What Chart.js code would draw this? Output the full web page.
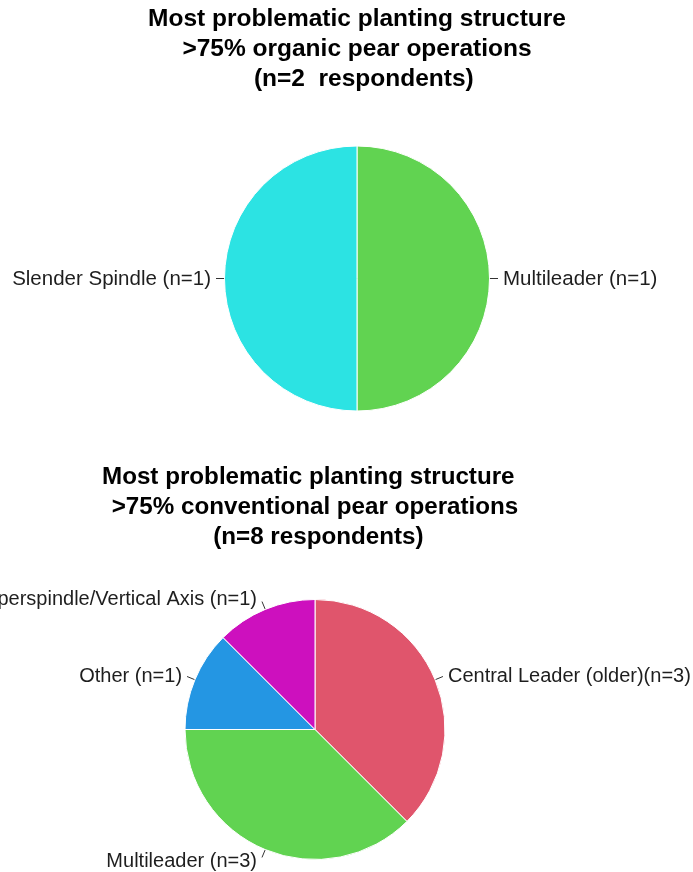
<!DOCTYPE html>
<html>
<head>
<meta charset="utf-8">
<script src="https://cdn.jsdelivr.net/npm/chart.js@4.4.1/dist/chart.umd.min.js"></script>
<style>
  html, body { margin: 0; padding: 0; background: #ffffff; }
  #wrap { position: relative; width: 693px; height: 872px; overflow: hidden; }
  .panel { position: absolute; left: 0; }
</style>
</head>
<body>
<div id="wrap">
  <canvas id="organic" class="panel" style="top:0px" width="693" height="440"></canvas>
  <canvas id="conventional" class="panel" style="top:458px" width="693" height="414"></canvas>
</div>
<script>
// Organic operations (n=2)
const organicTitle = ['Most problematic planting structure', '>75% organic pear operations', '  (n=2  respondents)'];
const organicLabels = ['Multileader (n=1)', 'Slender Spindle (n=1)'];
const organicCounts = [1, 1];
const organicColors = ['#61d351', '#2ce3e3'];

// Conventional operations (n=8)
const conventionalTitle = ['Most problematic planting structure  ', '>75% conventional pear operations', ' (n=8 respondents)'];
const conventionalLabels = ['Central Leader (older)(n=3)', 'Multileader (n=3)', 'Other (n=1)', 'Superspindle/Vertical Axis (n=1)'];
const conventionalCounts = [3, 3, 1, 1];
const conventionalColors = ['#e0556c', '#61d351', '#2496e3', '#cd10be'];

const FONT = '"Liberation Sans", Arial, Helvetica, sans-serif';

// Outside slice labels joined to the rim by a short leader line
const outsideLabels = {
  id: 'outsideLabels',
  afterDatasetsDraw(chart, args, opts) {
    const ctx = chart.ctx;
    const meta = chart.getDatasetMeta(0);
    const labels = chart.data.labels;
    ctx.save();
    ctx.font = opts.size + 'px ' + FONT;
    ctx.fillStyle = '#1e1e1e';
    ctx.strokeStyle = '#333333';
    ctx.lineWidth = 1;
    ctx.textBaseline = 'middle';
    meta.data.forEach((arc, i) => {
      const p = arc.getProps(['x', 'y', 'startAngle', 'endAngle', 'outerRadius'], true);
      const mid = (p.startAngle + p.endAngle) / 2;
      const dx = Math.cos(mid), dy = Math.sin(mid);
      const r0 = p.outerRadius + 0.5, r1 = p.outerRadius + 8.5;
      const x0 = p.x + dx * r0, y0 = p.y + dy * r0;
      const x1 = p.x + dx * r1, y1 = p.y + dy * r1;
      ctx.beginPath();
      ctx.moveTo(x0, y0);
      ctx.lineTo(x1, y1);
      ctx.stroke();
      const right = dx >= -1e-6;
      ctx.textAlign = right ? 'left' : 'right';
      ctx.fillText(labels[i], x1 + (right ? 5 : -5), y1 + dy * 3 + 1);
    });
    ctx.restore();
  }
};

function makePie(id, title, labels, counts, colors, radius, padding, titleSize, labelSize) {
  return new Chart(document.getElementById(id), {
    type: 'pie',
    data: {
      labels: labels,
      datasets: [{
        data: counts,
        backgroundColor: colors,
        borderColor: '#ffffff',
        borderWidth: 1
      }]
    },
    options: {
      responsive: false,
      animation: false,
      radius: radius,
      layout: { padding: padding },
      plugins: {
        legend: { display: false },
        tooltip: { enabled: false },
        outsideLabels: { size: labelSize },
        title: {
          display: true,
          text: title,
          color: '#000000',
          font: { family: FONT, size: titleSize, weight: 'bold', lineHeight: 30 / titleSize },
          padding: { top: 4, bottom: 46 }
        }
      }
    },
    plugins: [outsideLabels]
  });
}

makePie('organic', organicTitle, organicLabels, organicCounts, organicColors, 132.5,
  { left: 21, right: 0, top: 0, bottom: 23 }, 24.5, 20.5);
makePie('conventional', conventionalTitle, conventionalLabels, conventionalCounts, conventionalColors, 130,
  { left: 0, right: 63, top: 0, bottom: 11 }, 24.2, 20);
</script>
</body>
</html>
